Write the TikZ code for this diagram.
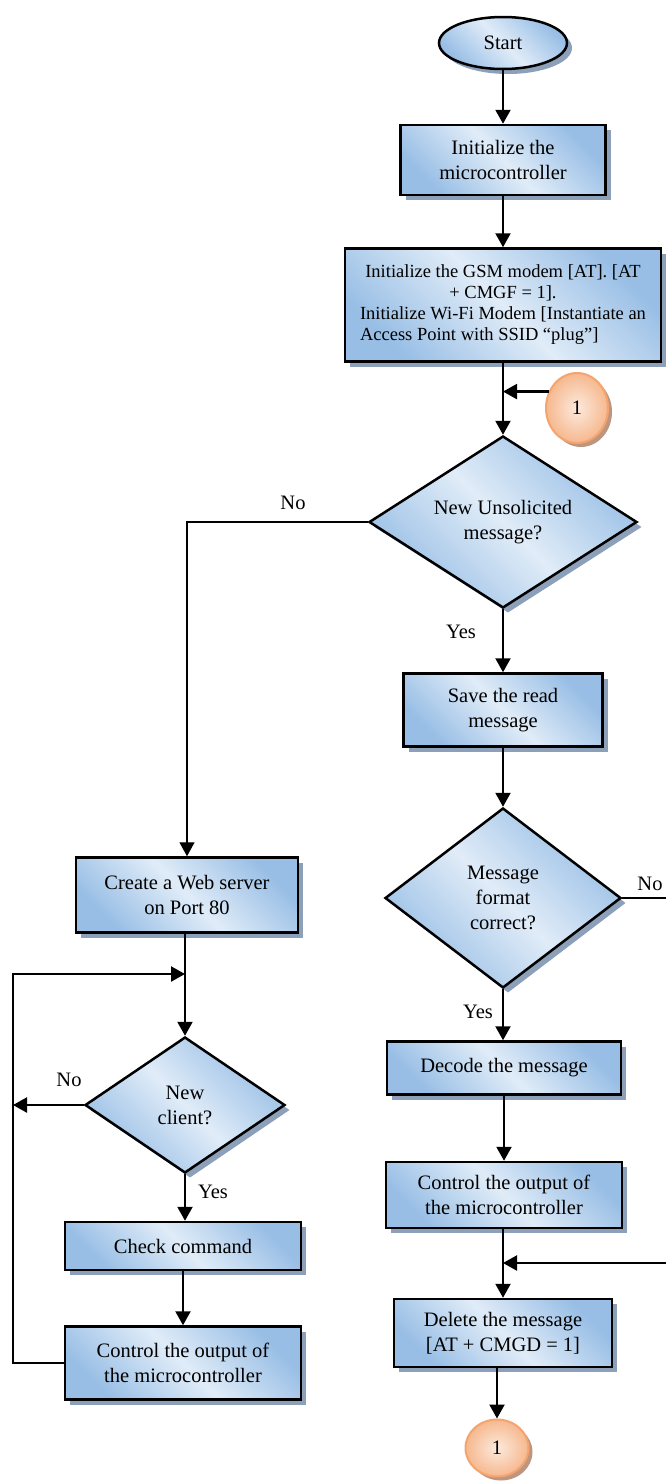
\documentclass[tikz,border=0pt]{standalone}
\usepackage{fontspec}
\setmainfont{Liberation Serif}
\usetikzlibrary{shapes.geometric,arrows.meta,shadows}
\definecolor{boxdark}{RGB}{152,190,229}
\definecolor{boxlight}{RGB}{224,236,248}
\definecolor{boxshadow}{RGB}{140,160,186}
\definecolor{conlight}{RGB}{252,234,222}
\definecolor{condark}{RGB}{246,184,142}
\definecolor{conline}{RGB}{244,164,110}
\definecolor{conshadow}{RGB}{190,150,128}
\begin{document}
\begin{tikzpicture}[x=1pt,y=-1pt,font=\fontsize{20.5}{25}\selectfont,
	blue/.style={draw,line width=2.5pt,align=center,inner sep=2pt,
		top color=boxdark,bottom color=boxdark,middle color=boxlight,shading angle=-45,
		drop shadow={shadow xshift=5pt,shadow yshift=-5pt,fill=boxshadow,draw=none,opacity=1}},
	proc/.style={blue,rectangle},
	ask/.style={blue,diamond,inner sep=0pt},
	con/.style={ellipse,draw=conline,line width=2pt,inner sep=0pt,
		inner color=conlight,outer color=condark,
		drop shadow={shadow xshift=4pt,shadow yshift=-4pt,fill=conshadow,draw=none,opacity=1}},
	arr/.style={line width=2.2pt,-{Triangle[length=14pt,width=15pt]}},
	thinln/.style={line width=1.2pt}]
	\useasboundingbox (0,0) rectangle (665,1483);
	% right column
	\node[blue,ellipse,minimum width=128,minimum height=52] (start) at (503,43) {Start};
	\node[proc,minimum width=205,minimum height=70] (init) at (503,160) {Initialize the\\microcontroller};
	\node[proc,minimum width=316,minimum height=113,font=\fontsize{18.5}{21}\selectfont] (gsm) at (503,305)
		{Initialize the GSM modem [AT]. [AT\\+ CMGF = 1].\\Initialize Wi-Fi Modem [Instantiate an\\\rlap{Access Point with SSID “plug”]}\phantom{Initialize Wi-Fi Modem [Instantiate an}};
	\node[con,minimum width=62,minimum height=70] (c1) at (577,408) {1};
	\node[ask,aspect=1.55,minimum width=268,minimum height=172] (d1) at (503,522) {New Unsolicited\\message?};
	\node[proc,minimum width=199,minimum height=73] (save) at (503,710) {Save the read\\message};
	\node[ask,aspect=1.3,minimum width=236,minimum height=180] (d2) at (503,898) {Message\\format\\correct?};
	\node[proc,minimum width=234,minimum height=53] (dec) at (504,1068) {Decode the message};
	\node[proc,minimum width=236,minimum height=66] (ctl) at (504,1195) {Control the output of\\the microcontroller};
	\node[proc,minimum width=218,minimum height=68] (del) at (503,1333) {Delete the message\\{}[AT + CMGD = 1]};
	\node[con,minimum width=63,minimum height=57] (c2) at (497,1448) {1};
	% left column
	\node[proc,minimum width=222,minimum height=75] (web) at (187,895) {Create a Web server\\on Port 80};
	\node[ask,aspect=1.47,minimum width=200,minimum height=136] (d3) at (185,1105) {New\\client?};
	\node[proc,minimum width=236,minimum height=48] (chk) at (183,1246) {Check command};
	\node[proc,minimum width=236,minimum height=73] (ctl2) at (183,1363) {Control the output of\\the microcontroller};
	\coordinate (lp) at (13,974);
	\coordinate (rgt) at (690,1263);
	% labels
	\node (no1) at (293,503) {No};
	\node (yes1) at (461,632) {Yes};
	\node[inner sep=1pt] (no2) at (650,884) {No};
	\node (yes2) at (478,1012) {Yes};
	\node (no3) at (69,1080) {No};
	\node (yes3) at (213,1192) {Yes};
	% connectors
	\draw[arr] (start) -- (init);
	\draw[arr] (init) -- (gsm);
	\draw[arr] (gsm) -- (d1);
	\draw[arr] (c1.150) -- (c1.150 -| gsm.south);
	\draw[arr] (d1) -- (save);
	\draw[arr] (save) -- (d2);
	\draw[arr] (d2.south) -- (d2.south |- dec.north);
	\draw[arr] (dec) -- (ctl);
	\draw[arr] (ctl.south -| del) -- (del);
	\draw[arr] (del.south -| c2) -- (c2);
	\draw[thinln] (d2.east) -- (d2.east -| rgt) -- (rgt);
	\draw[arr] (rgt) -- (rgt -| del.north);
	\draw[thinln,-{Triangle[length=14pt,width=15pt]}] (d1.west) -| (web.north);
	\draw[arr] (web.south -| d3) -- (d3);
	\draw[arr] (ctl2.west) -| (lp) -- (lp -| d3.north);
	\draw[arr] (d3.west) -- (d3.west -| lp);
	\draw[arr] (d3.south) -- (d3.south |- chk.north);
	\draw[arr] (chk) -- (ctl2);
\end{tikzpicture}
\end{document}
